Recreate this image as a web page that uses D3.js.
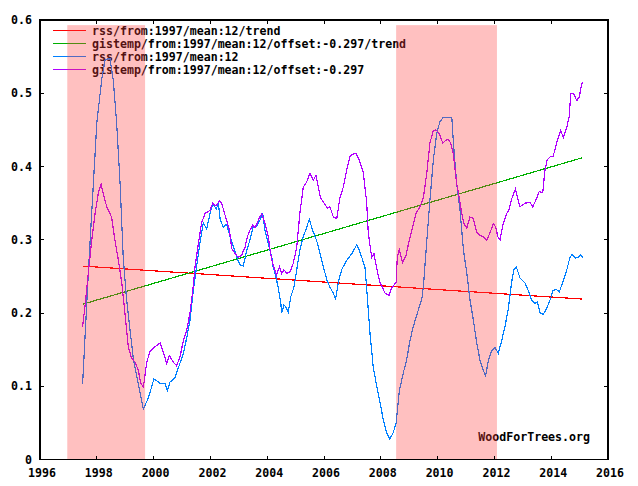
<!DOCTYPE html>
<html>
<head>
<meta charset="utf-8">
<script src="https://cdn.jsdelivr.net/npm/d3@7"></script>
<style>
  body { margin: 0; background: #fff; }
  svg { display: block; }
  text { font-family: "DejaVu Sans Mono", "Liberation Mono", monospace; font-weight: bold; }
</style>
</head>
<body>
<div id="chart"></div>
<script>
// RSS, 12 month running mean from 1997
const rssYears = [
  1997.50, 1997.58, 1997.70, 1997.88, 1998.00, 1998.17, 1998.29, 1998.46, 1998.58, 1998.70,
  1998.82, 1998.93, 1999.05, 1999.17, 1999.29, 1999.46, 1999.64, 1999.78, 1999.87, 2000.01,
  2000.23, 2000.40, 2000.48, 2000.58, 2000.75, 2000.87, 2001.05, 2001.17, 2001.28, 2001.40,
  2001.52, 2001.63, 2001.75, 2001.87, 2001.99, 2002.08, 2002.21, 2002.28, 2002.34, 2002.45,
  2002.57, 2002.69, 2002.81, 2002.93, 2003.04, 2003.16, 2003.28, 2003.39, 2003.49, 2003.63,
  2003.75, 2003.84, 2003.92, 2004.04, 2004.16, 2004.21, 2004.31, 2004.39, 2004.48, 2004.51,
  2004.59, 2004.66, 2004.74, 2004.83, 2004.94, 2005.04, 2005.15, 2005.27, 2005.39, 2005.48,
  2005.60, 2005.74, 2005.86, 2005.98, 2006.10, 2006.21, 2006.33, 2006.41, 2006.50, 2006.62,
  2006.80, 2006.98, 2007.15, 2007.24, 2007.33, 2007.44, 2007.50, 2007.62, 2007.74, 2007.91,
  2008.09, 2008.21, 2008.32, 2008.44, 2008.54, 2008.65, 2008.79, 2008.91, 2009.03, 2009.14,
  2009.32, 2009.44, 2009.50, 2009.62, 2009.73, 2009.85, 2009.97, 2010.08, 2010.20, 2010.38,
  2010.50, 2010.55, 2010.67, 2010.79, 2010.91, 2011.03, 2011.14, 2011.26, 2011.38, 2011.49,
  2011.61, 2011.69, 2011.79, 2011.91, 2012.02, 2012.14, 2012.26, 2012.37, 2012.49, 2012.61,
  2012.69, 2012.77, 2012.90, 2013.08, 2013.19, 2013.31, 2013.43, 2013.51, 2013.61, 2013.72,
  2013.84, 2013.96, 2014.07, 2014.19, 2014.29, 2014.43, 2014.55, 2014.66, 2014.74, 2014.84,
  2014.95, 2015.04, 2015.11
];
const rssValues = [
  0.103, 0.163, 0.254, 0.377, 0.459, 0.518, 0.545, 0.548, 0.518, 0.459,
  0.377, 0.276, 0.218, 0.177, 0.136, 0.104, 0.069, 0.081, 0.091, 0.110,
  0.104, 0.104, 0.094, 0.106, 0.111, 0.125, 0.145, 0.167, 0.190, 0.231,
  0.265, 0.295, 0.323, 0.315, 0.336, 0.349, 0.342, 0.350, 0.329, 0.317,
  0.321, 0.305, 0.291, 0.276, 0.266, 0.264, 0.286, 0.299, 0.316, 0.319,
  0.327, 0.336, 0.313, 0.295, 0.276, 0.263, 0.249, 0.234, 0.213, 0.200,
  0.211, 0.208, 0.201, 0.222, 0.235, 0.259, 0.286, 0.304, 0.317, 0.328,
  0.313, 0.299, 0.281, 0.263, 0.245, 0.235, 0.227, 0.219, 0.241, 0.259,
  0.272, 0.281, 0.293, 0.286, 0.276, 0.263, 0.235, 0.172, 0.124, 0.090,
  0.054, 0.036, 0.028, 0.037, 0.050, 0.093, 0.118, 0.136, 0.163, 0.181,
  0.204, 0.218, 0.236, 0.299, 0.354, 0.409, 0.445, 0.461, 0.467, 0.467,
  0.467, 0.436, 0.377, 0.340, 0.286, 0.254, 0.218, 0.190, 0.159, 0.136,
  0.122, 0.114, 0.136, 0.149, 0.153, 0.145, 0.163, 0.181, 0.206, 0.243,
  0.259, 0.263, 0.248, 0.241, 0.231, 0.218, 0.213, 0.215, 0.200, 0.198,
  0.206, 0.218, 0.231, 0.232, 0.229, 0.245, 0.259, 0.276, 0.280, 0.275,
  0.276, 0.280, 0.275
];

// GISTEMP, 12 month running mean from 1997, offset -0.297
const gisYears = [
  1997.50, 1997.58, 1997.70, 1997.82, 1997.94, 1998.05, 1998.15, 1998.23, 1998.35, 1998.52,
  1998.64, 1998.76, 1998.88, 1998.99, 1999.11, 1999.23, 1999.35, 1999.46, 1999.55, 1999.64,
  1999.76, 1999.87, 2000.05, 2000.23, 2000.34, 2000.46, 2000.55, 2000.69, 2000.81, 2000.93,
  2001.05, 2001.17, 2001.28, 2001.38, 2001.46, 2001.57, 2001.69, 2001.81, 2001.99, 2002.08,
  2002.20, 2002.31, 2002.40, 2002.48, 2002.57, 2002.67, 2002.75, 2002.87, 2002.98, 2003.10,
  2003.22, 2003.30, 2003.39, 2003.49, 2003.57, 2003.69, 2003.81, 2003.92, 2004.04, 2004.12,
  2004.19, 2004.27, 2004.33, 2004.43, 2004.51, 2004.59, 2004.69, 2004.80, 2004.92, 2005.04,
  2005.15, 2005.27, 2005.39, 2005.51, 2005.62, 2005.72, 2005.80, 2005.88, 2006.00, 2006.12,
  2006.21, 2006.33, 2006.45, 2006.56, 2006.68, 2006.80, 2006.92, 2007.03, 2007.13, 2007.24,
  2007.38, 2007.50, 2007.56, 2007.68, 2007.76, 2007.86, 2007.97, 2008.15, 2008.29, 2008.38,
  2008.54, 2008.58, 2008.65, 2008.76, 2008.89, 2009.00, 2009.12, 2009.24, 2009.38, 2009.50,
  2009.62, 2009.73, 2009.85, 2009.94, 2010.06, 2010.18, 2010.30, 2010.38, 2010.46, 2010.55,
  2010.67, 2010.76, 2010.85, 2010.93, 2011.03, 2011.14, 2011.26, 2011.38, 2011.49, 2011.61,
  2011.73, 2011.85, 2011.96, 2012.05, 2012.12, 2012.20, 2012.31, 2012.43, 2012.51, 2012.61,
  2012.74, 2012.90, 2013.08, 2013.25, 2013.35, 2013.46, 2013.58, 2013.70, 2013.78, 2013.86,
  2013.96, 2014.07, 2014.17, 2014.25, 2014.33, 2014.43, 2014.55, 2014.63, 2014.69, 2014.78,
  2014.90, 2014.99, 2015.05, 2015.10
];
const gisValues = [
  0.181, 0.208, 0.254, 0.299, 0.336, 0.363, 0.376, 0.363, 0.345, 0.331,
  0.299, 0.272, 0.241, 0.200, 0.153, 0.138, 0.133, 0.122, 0.104, 0.099,
  0.133, 0.147, 0.154, 0.159, 0.147, 0.131, 0.142, 0.133, 0.128, 0.140,
  0.163, 0.177, 0.200, 0.231, 0.263, 0.293, 0.323, 0.336, 0.340, 0.350,
  0.346, 0.353, 0.350, 0.338, 0.327, 0.313, 0.288, 0.281, 0.276, 0.279,
  0.290, 0.304, 0.313, 0.320, 0.316, 0.327, 0.336, 0.322, 0.304, 0.281,
  0.268, 0.259, 0.252, 0.263, 0.254, 0.259, 0.254, 0.256, 0.268, 0.290,
  0.336, 0.372, 0.379, 0.391, 0.381, 0.388, 0.372, 0.357, 0.350, 0.343,
  0.345, 0.331, 0.329, 0.357, 0.372, 0.395, 0.415, 0.417, 0.418, 0.409,
  0.393, 0.352, 0.309, 0.276, 0.281, 0.260, 0.242, 0.227, 0.224, 0.234,
  0.242, 0.276, 0.286, 0.269, 0.279, 0.299, 0.317, 0.336, 0.345, 0.358,
  0.391, 0.432, 0.449, 0.450, 0.445, 0.432, 0.436, 0.437, 0.432, 0.418,
  0.377, 0.358, 0.336, 0.322, 0.316, 0.331, 0.329, 0.310, 0.306, 0.304,
  0.299, 0.310, 0.322, 0.317, 0.304, 0.300, 0.322, 0.336, 0.340, 0.356,
  0.369, 0.345, 0.350, 0.351, 0.345, 0.354, 0.366, 0.364, 0.395, 0.409,
  0.413, 0.414, 0.429, 0.440, 0.449, 0.440, 0.454, 0.467, 0.500, 0.500,
  0.490, 0.495, 0.508, 0.515
];

// Linear trends (start, end)
const trendYears = [1997.5, 2015.1];
const rssTrend = [0.264, 0.219];
const gisTrend = [0.212, 0.412];

// Shaded periods
const shadeStarts = [1996.96, 2008.54];
const shadeEnds = [1999.70, 2012.09];
const shadeTop = 0.593;

const legendLabels = [
  "rss/from:1997/mean:12/trend",
  "gistemp/from:1997/mean:12/offset:-0.297/trend",
  "rss/from:1997/mean:12",
  "gistemp/from:1997/mean:12/offset:-0.297"
];
const legendColors = ["#ff0000", "#00b000", "#0080ff", "#b000ff"];

const xTicks = d3.range(1996, 2017, 2);
const yTicks = [0, 0.1, 0.2, 0.3, 0.4, 0.5, 0.6];

// Layout
const W = 638, H = 486;
const plotLeft = 40, plotRight = 608, plotTop = 20, plotBottom = 459.5;

const x = d3.scaleLinear().domain([1996, 2016]).range([plotLeft, plotRight]);
const y = d3.scaleLinear().domain([0, 0.6]).range([plotBottom, plotTop]);

const svg = d3.select("#chart").append("svg")
  .attr("width", W)
  .attr("height", H);

// Legend (under the shading, like the original)
const legend = svg.append("g");
legendLabels.forEach((label, i) => {
  const ly = 30.5 + i * 13;
  legend.append("line")
    .attr("x1", 53).attr("x2", 86)
    .attr("y1", ly).attr("y2", ly)
    .attr("stroke", legendColors[i])
    .attr("shape-rendering", "crispEdges");
  legend.append("text")
    .attr("x", 92)
    .attr("y", ly + 4)
    .style("font-size", "11.6px")
    .attr("fill", "#000")
    .text(label);
});

// Series
const line = d3.line()
  .x((d) => x(d[0]))
  .y((d) => y(d[1]));

const series = [
  { years: trendYears, values: rssTrend, color: legendColors[0] },
  { years: trendYears, values: gisTrend, color: legendColors[1] },
  { years: rssYears, values: rssValues, color: legendColors[2] },
  { years: gisYears, values: gisValues, color: legendColors[3] }
];

svg.append("g")
  .selectAll("path")
  .data(series)
  .join("path")
  .attr("d", (s) => line(s.years.map((yr, i) => [yr, s.values[i]])))
  .attr("fill", "none")
  .attr("stroke", (s) => s.color)
  .attr("stroke-width", 1.2)
  .attr("shape-rendering", "crispEdges");

// Watermark
svg.append("text")
  .attr("x", 590)
  .attr("y", 441)
  .attr("text-anchor", "end")
  .style("font-size", "11.6px")
  .attr("fill", "#000")
  .text("WoodForTrees.org");

// Shaded periods drawn on top, semi transparent
svg.append("g")
  .selectAll("rect")
  .data(shadeStarts.map((s, i) => [s, shadeEnds[i]]))
  .join("rect")
  .attr("x", (d) => x(d[0]))
  .attr("width", (d) => x(d[1]) - x(d[0]))
  .attr("y", y(shadeTop))
  .attr("height", y(0) - y(shadeTop))
  .attr("fill", "#ff3c3c")
  .attr("fill-opacity", 0.32);

// Frame
svg.append("rect")
  .attr("x", plotLeft).attr("y", plotTop)
  .attr("width", plotRight - plotLeft).attr("height", plotBottom - plotTop)
  .attr("fill", "none")
  .attr("stroke", "#000")
  .attr("stroke-width", 1.2)
  .attr("shape-rendering", "crispEdges");

// Inward ticks on all four sides
const tickLen = 4;
const ticks = svg.append("g").attr("stroke", "#000").attr("shape-rendering", "crispEdges");
xTicks.slice(1, -1).forEach((t) => {
  ticks.append("line").attr("x1", x(t)).attr("x2", x(t)).attr("y1", plotBottom).attr("y2", plotBottom - tickLen);
  ticks.append("line").attr("x1", x(t)).attr("x2", x(t)).attr("y1", plotTop).attr("y2", plotTop + tickLen);
});
yTicks.slice(1, -1).forEach((t) => {
  ticks.append("line").attr("x1", plotLeft).attr("x2", plotLeft + tickLen).attr("y1", y(t)).attr("y2", y(t));
  ticks.append("line").attr("x1", plotRight).attr("x2", plotRight - tickLen).attr("y1", y(t)).attr("y2", y(t));
});

// Tick labels (sit a couple of pixels right of their ticks in the original)
svg.append("g")
  .selectAll("text")
  .data(xTicks)
  .join("text")
  .attr("x", (d) => x(d) + 2)
  .attr("y", 477)
  .attr("text-anchor", "middle")
  .style("font-size", "11.6px")
  .text((d) => d);

svg.append("g")
  .selectAll("text")
  .data(yTicks)
  .join("text")
  .attr("x", 32)
  .attr("y", (d) => y(d) + 4)
  .attr("text-anchor", "end")
  .style("font-size", "11.6px")
  .text((d) => (d === 0 ? "0" : d.toFixed(1)));
</script>
</body>
</html>
